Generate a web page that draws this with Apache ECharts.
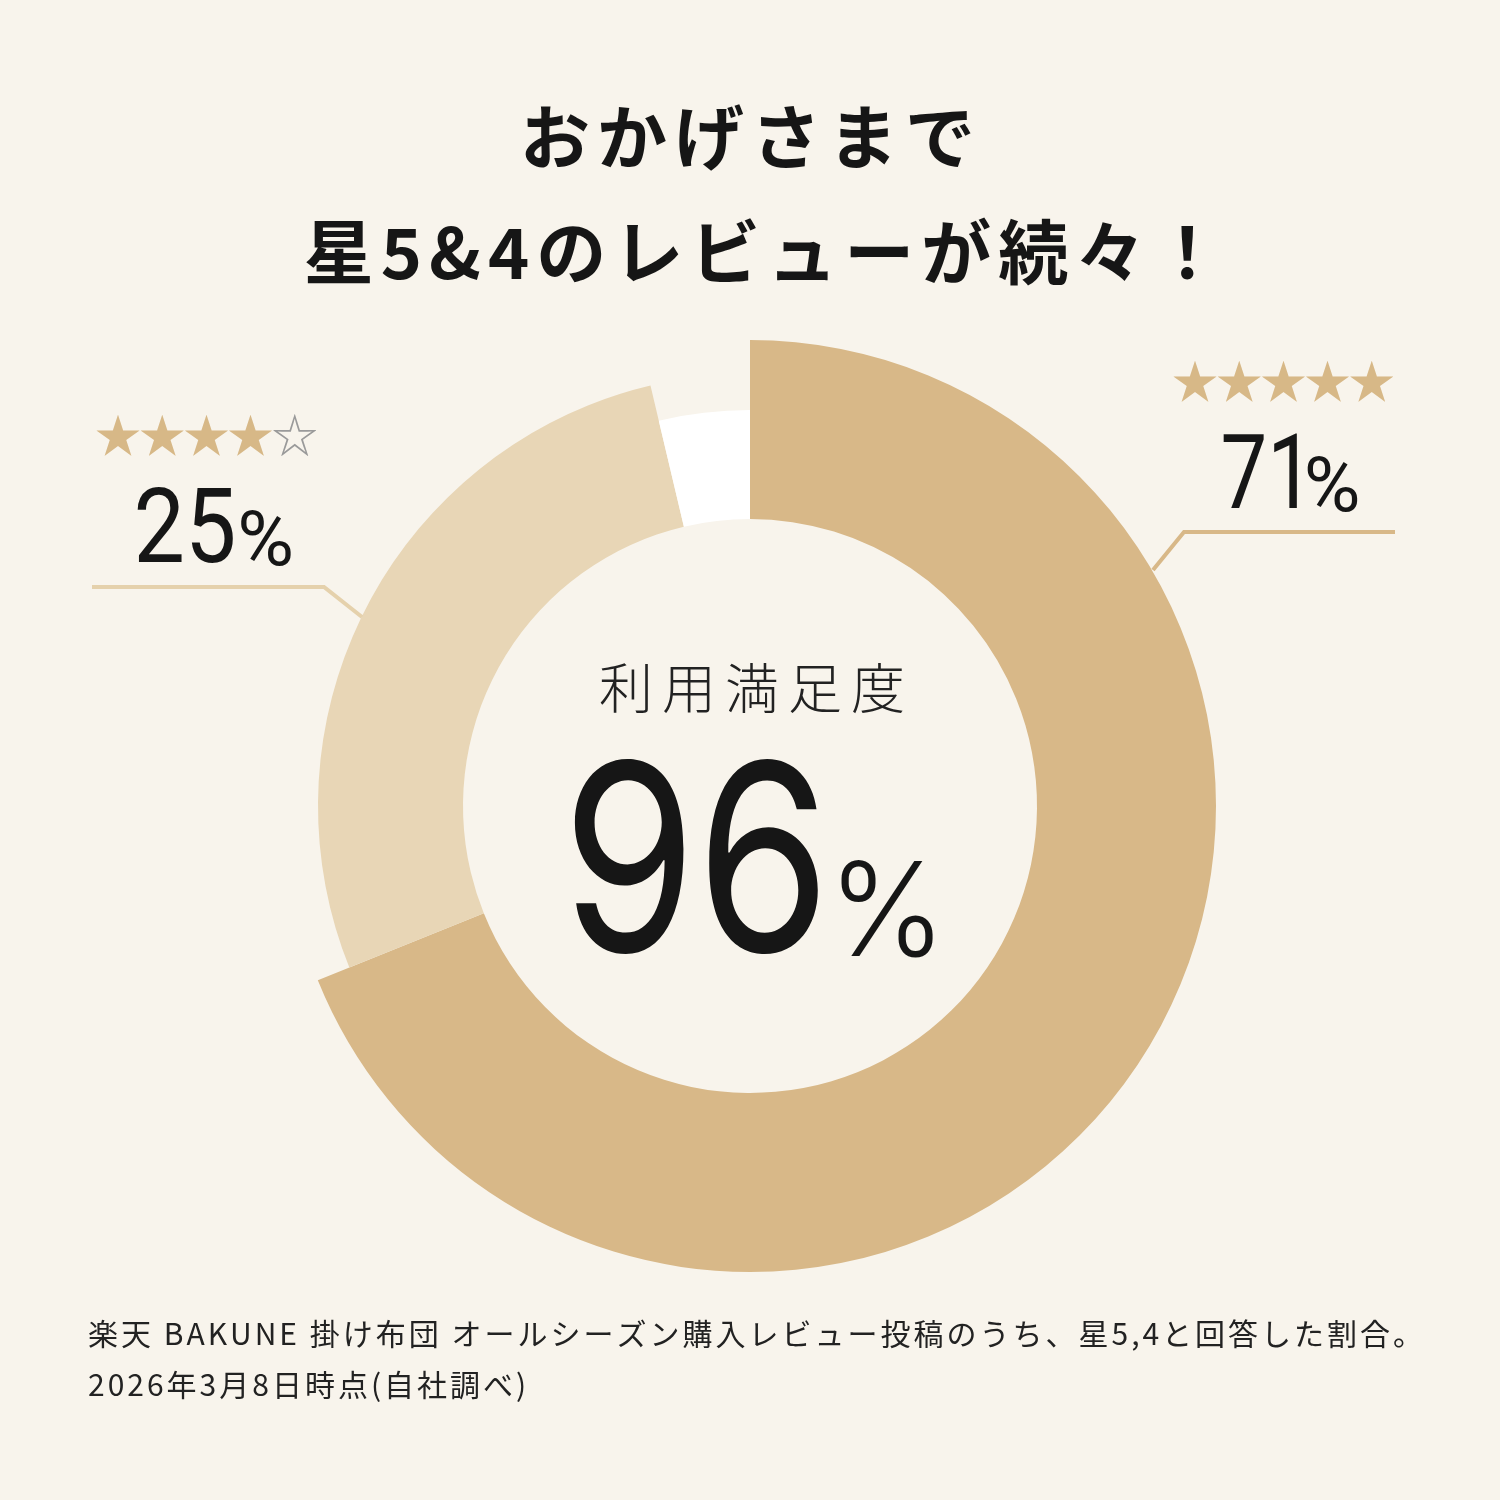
<!DOCTYPE html>
<html>
<head>
<meta charset="utf-8">
<script src="https://cdn.jsdelivr.net/npm/echarts@6/dist/echarts.min.js"></script>
<style>
html,body{margin:0;padding:0;background:#F8F4EC;}
#chart{width:1500px;height:1500px;}
</style>
</head>
<body>
<div id="chart"></div>
<script>
// ---- data ----
const segmentNames = ['星5', '星4', 'その他'];
const segmentShares = [68.9, 27.4, 3.7];        // angular shares as drawn in the ring
const labelPercents = ['71', '25'];              // printed percentages
const labelStars = ['★★★★★', '★★★★☆'];
const headlineValue = '96';
const titleLines = ['おかげさまで', '星5&4のレビューが続々！'];
const centerCaption = '利用満足度';
const footnoteLines = [
  '楽天 BAKUNE 掛け布団 オールシーズン購入レビュー投稿のうち、星5,4と回答した割合。',
  '2026年3月8日時点(自社調べ)'
];

// ---- styles ----
const BG = '#F8F4EC';
const ringColors = ['#D8B888', '#E8D6B6', '#FFFFFF'];
const ringOuter = [466, 432, 396];
const ringInner = 287;
const CENTER = [750, 806];
const INK = '#161616';
const JP = '"Noto Sans CJK JP"';

const mctx = document.createElement('canvas').getContext('2d');
function spaced(str, x, y, o) {
  const font = `${o.weight || 'normal'} ${o.size}px ${o.family}`;
  mctx.font = font;
  const chars = Array.from(str);
  const widths = chars.map(c => o.pitch ? o.pitch : mctx.measureText(c).width);
  const sp = o.spacing || 0;
  const total = widths.reduce((a, b) => a + b, 0) + sp * (chars.length - 1);
  let start = x;
  if (o.align === 'center') {
    if (o.inkCenter) {
      const m0 = mctx.measureText(chars[0]);
      const mL = mctx.measureText(chars[chars.length - 1]);
      const lastStart = total - widths[widths.length - 1];
      const inkL = -m0.actualBoundingBoxLeft;
      const inkR = lastStart + mL.actualBoundingBoxRight;
      start = x - (inkL + inkR) / 2;
    } else {
      start = x - total / 2;
    }
  }
  let cx = start;
  return chars.map((c, i) => {
    const el = {
      type: 'text', x: cx, y: y, z: 10,
      style: {
        text: c, font: font, fill: (o.colorFn ? o.colorFn(c, i) : o.color),
        textAlign: 'left', textVerticalAlign: 'middle'
      }
    };
    cx += widths[i] + sp;
    return el;
  });
}

const graphics = [];
// title
graphics.push(...spaced(titleLines[0], 748, 137, {size: 70, weight: 'bold', family: JP, spacing: 7, align: 'center', inkCenter: true, color: INK}));
graphics.push(...spaced(titleLines[1], 750, 252, {size: 70, weight: 'bold', family: JP, spacing: 7, align: 'center', inkCenter: true, color: INK}));
// center caption
graphics.push(...spaced(centerCaption, 752, 688, {size: 54, weight: 300, family: JP, spacing: 9, align: 'center', color: '#222'}));
// headline 96%
graphics.push({type: 'text', x: 562, y: 873, scaleX: 0.83, z: 10,
  style: {text: headlineValue, font: '400 261px Inter', fill: INK, textAlign: 'left', textVerticalAlign: 'middle'}});
graphics.push({type: 'text', x: 828, y: 917, scaleX: 0.97, z: 10,
  style: {text: '%', font: '300 130px Inter', fill: INK, textAlign: 'left', textVerticalAlign: 'middle'}});

// stars
const starColor = (c) => c === '★' ? '#D7B887' : '#9A9A9A';
graphics.push(...spaced(labelStars[0], 1172, 381, {size: 46, family: JP, pitch: 44.2, align: 'left', colorFn: starColor}));
graphics.push(...spaced(labelStars[1], 95, 435, {size: 46, family: JP, pitch: 44.2, align: 'left', colorFn: starColor}));

// percent labels (ink-left aligned number, then % after a small gap)
function pctLabel(num, inkLeft, baseline, numScale, gap) {
  const nf = '400 104px Roboto', pf = '400 76px Roboto', pScale = 1.02;
  mctx.font = nf;
  const mn = mctx.measureText(num);
  const nx = inkLeft + mn.actualBoundingBoxLeft * numScale;
  const numInkRight = nx + mn.actualBoundingBoxRight * numScale;
  mctx.font = pf;
  const mp = mctx.measureText('%');
  const px = numInkRight + gap + mp.actualBoundingBoxLeft * pScale;
  return [
    {type: 'text', x: nx, y: baseline - 27, scaleX: numScale, z: 10,
      style: {text: num, font: nf, fill: INK, textAlign: 'left', textVerticalAlign: 'middle'}},
    {type: 'text', x: px, y: baseline - 17, scaleX: pScale, z: 10,
      style: {text: '%', font: pf, fill: INK, textAlign: 'left', textVerticalAlign: 'middle'}}
  ];
}
graphics.push(...pctLabel(labelPercents[0], 1223, 509, 0.8, 9));
graphics.push(...pctLabel(labelPercents[1], 137, 563, 0.88, 7));

// leader lines
graphics.push({type: 'polyline', z: 5, shape: {points: [[1153, 570], [1184, 532], [1395, 532]]},
  style: {stroke: ringColors[0], lineWidth: 4, fill: null}});
graphics.push({type: 'polyline', z: 5, shape: {points: [[92, 587], [324, 587], [362, 617]]},
  style: {stroke: '#E5D1AC', lineWidth: 4, fill: null}});

// footnotes
graphics.push(...spaced(footnoteLines[0], 88, 1334, {size: 30, family: JP, spacing: 3, align: 'left', color: '#222'}));
graphics.push(...spaced(footnoteLines[1], 88, 1385, {size: 30, family: JP, spacing: 3, align: 'left', color: '#222'}));

const chart = echarts.init(document.getElementById('chart'), null, {renderer: 'canvas'});
chart.setOption({
  backgroundColor: BG,
  animation: false,
  tooltip: {show: false},
  series: segmentShares.map((_, i) => ({
    type: 'pie',
    center: CENTER,
    radius: [ringInner, ringOuter[i]],
    startAngle: 90,
    clockwise: true,
    padAngle: 0,
    silent: true,
    z: 2,
    label: {show: false},
    labelLine: {show: false},
    emphasis: {disabled: true},
    itemStyle: {borderWidth: 0},
    data: segmentShares.map((v, j) => ({
      name: segmentNames[j],
      value: v,
      itemStyle: {color: j === i ? ringColors[i] : 'rgba(0,0,0,0)', borderWidth: 0}
    }))
  })),
  graphic: {elements: graphics}
});
</script>
</body>
</html>
